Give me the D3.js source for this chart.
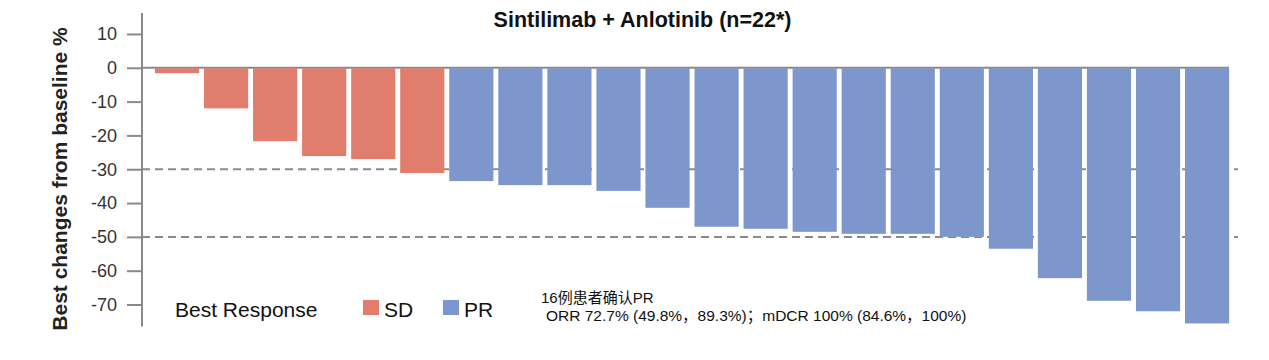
<!DOCTYPE html>
<html>
<head>
<meta charset="utf-8">
<script src="https://cdn.jsdelivr.net/npm/d3@7/dist/d3.min.js"></script>
<style>
  html, body { margin: 0; padding: 0; background: #fff; }
  svg { display: block; }
</style>
</head>
<body>
<svg id="chart" width="1269" height="360"></svg>
<script>
// ---- data ----
const patients = d3.range(1, 23).map(String);
const responses = ["SD","SD","SD","SD","SD","SD",
  "PR","PR","PR","PR","PR","PR","PR","PR","PR","PR","PR","PR","PR","PR","PR","PR"];
const changes = [-1.6, -12.0, -21.7, -26.1, -27.0, -31.1,
  -33.5, -34.7, -34.7, -36.4, -41.4, -47.0, -47.6, -48.5, -49.1, -49.1,
  -50.0, -53.5, -62.2, -68.9, -72.0, -75.6];
const yTicks = [10, 0, -10, -20, -30, -40, -50, -60, -70];
const refLines = [-30, -50];
const legendItems = ["SD", "PR"];
const titleText = "Sintilimab + Anlotinib (n=22*)";
const yLabel = "Best changes from baseline %";
const legendTitle = "Best Response";
const noteLines = ["16例患者确认PR", "ORR 72.7% (49.8%，89.3%)；mDCR 100% (84.6%，100%)"];

const colors = { SD: "#e07d6d", PR: "#7d96cc" };
const data = patients.map((p, i) => ({ id: p, resp: responses[i], val: changes[i] }));

const svg = d3.select("#chart");
const x = d3.scaleBand().domain(patients).range([152.5, 1231.6]).paddingInner(0.1).paddingOuter(0.05);
const y = d3.scaleLinear().domain([16.2, -76.5]).range([13, 326.5]);
const axisX = 142;
const gray = "#8a8a8a";

// reference dashed lines
svg.append("g").selectAll("line").data(refLines).join("line")
  .attr("x1", axisX).attr("x2", 1238)
  .attr("y1", d => y(d)).attr("y2", d => y(d))
  .attr("stroke", gray).attr("stroke-width", 2).attr("stroke-dasharray", "8,5");

// zero line
svg.append("line").attr("x1", axisX).attr("x2", 1229)
  .attr("y1", y(0)).attr("y2", y(0)).attr("stroke", gray).attr("stroke-width", 2);

// bars
svg.append("g").selectAll("rect").data(data).join("rect")
  .attr("x", d => x(d.id))
  .attr("width", x.bandwidth())
  .attr("y", d => y(0) + 0.5)
  .attr("height", d => y(d.val) - y(0) - 0.5)
  .attr("fill", d => colors[d.resp]);

// y axis
const yAxis = d3.axisLeft(y).tickValues(yTicks).tickSize(15).tickPadding(10).tickFormat(d3.format("d"));
const gy = svg.append("g").attr("transform", `translate(${axisX},0)`).call(yAxis);
gy.select(".domain").attr("d", `M0,13V326.5`).attr("stroke", gray).attr("stroke-width", 2);
gy.selectAll(".tick line").attr("stroke", gray).attr("stroke-width", 2);
gy.selectAll(".tick text")
  .attr("font-family", "'Liberation Sans', Arial, sans-serif")
  .attr("font-size", 18).attr("fill", "#333")
  .text(d => (d < 0 ? "-" + Math.abs(d) : d));

// y label
svg.append("text")
  .attr("transform", `translate(67,${(25 + 333) / 2}) rotate(-90)`)
  .attr("text-anchor", "middle")
  .attr("font-family", "'Liberation Sans', Arial, sans-serif")
  .attr("font-weight", "bold").attr("font-size", 21).attr("fill", "#222")
  .text(yLabel);

// title
svg.append("text").attr("x", 642.5).attr("y", 27).attr("text-anchor", "middle")
  .attr("font-family", "'Liberation Sans', Arial, sans-serif")
  .attr("font-weight", "bold").attr("font-size", 21.5).attr("fill", "#111")
  .text(titleText);

// legend
const lg = svg.append("g").attr("font-family", "'Liberation Sans', Arial, sans-serif").attr("font-size", 21).attr("fill", "#111");
lg.append("text").attr("x", 175).attr("y", 316.5).text(legendTitle);
const lx = [363, 443];
legendItems.forEach((k, i) => {
  lg.append("rect").attr("x", lx[i]).attr("y", 300).attr("width", 16).attr("height", 15).attr("fill", colors[k]);
  lg.append("text").attr("x", lx[i] + 21).attr("y", 316.5).text(k);
});

// note
const ng = svg.append("g").attr("font-family", "'Liberation Sans', 'Noto Sans CJK SC', sans-serif").attr("fill", "#111");
ng.append("text").attr("x", 541).attr("y", 302.5).attr("font-size", 15).text(noteLines[0]);
ng.append("text").attr("x", 546).attr("y", 320.5).attr("font-size", 15.5).text(noteLines[1]);
</script>
</body>
</html>
